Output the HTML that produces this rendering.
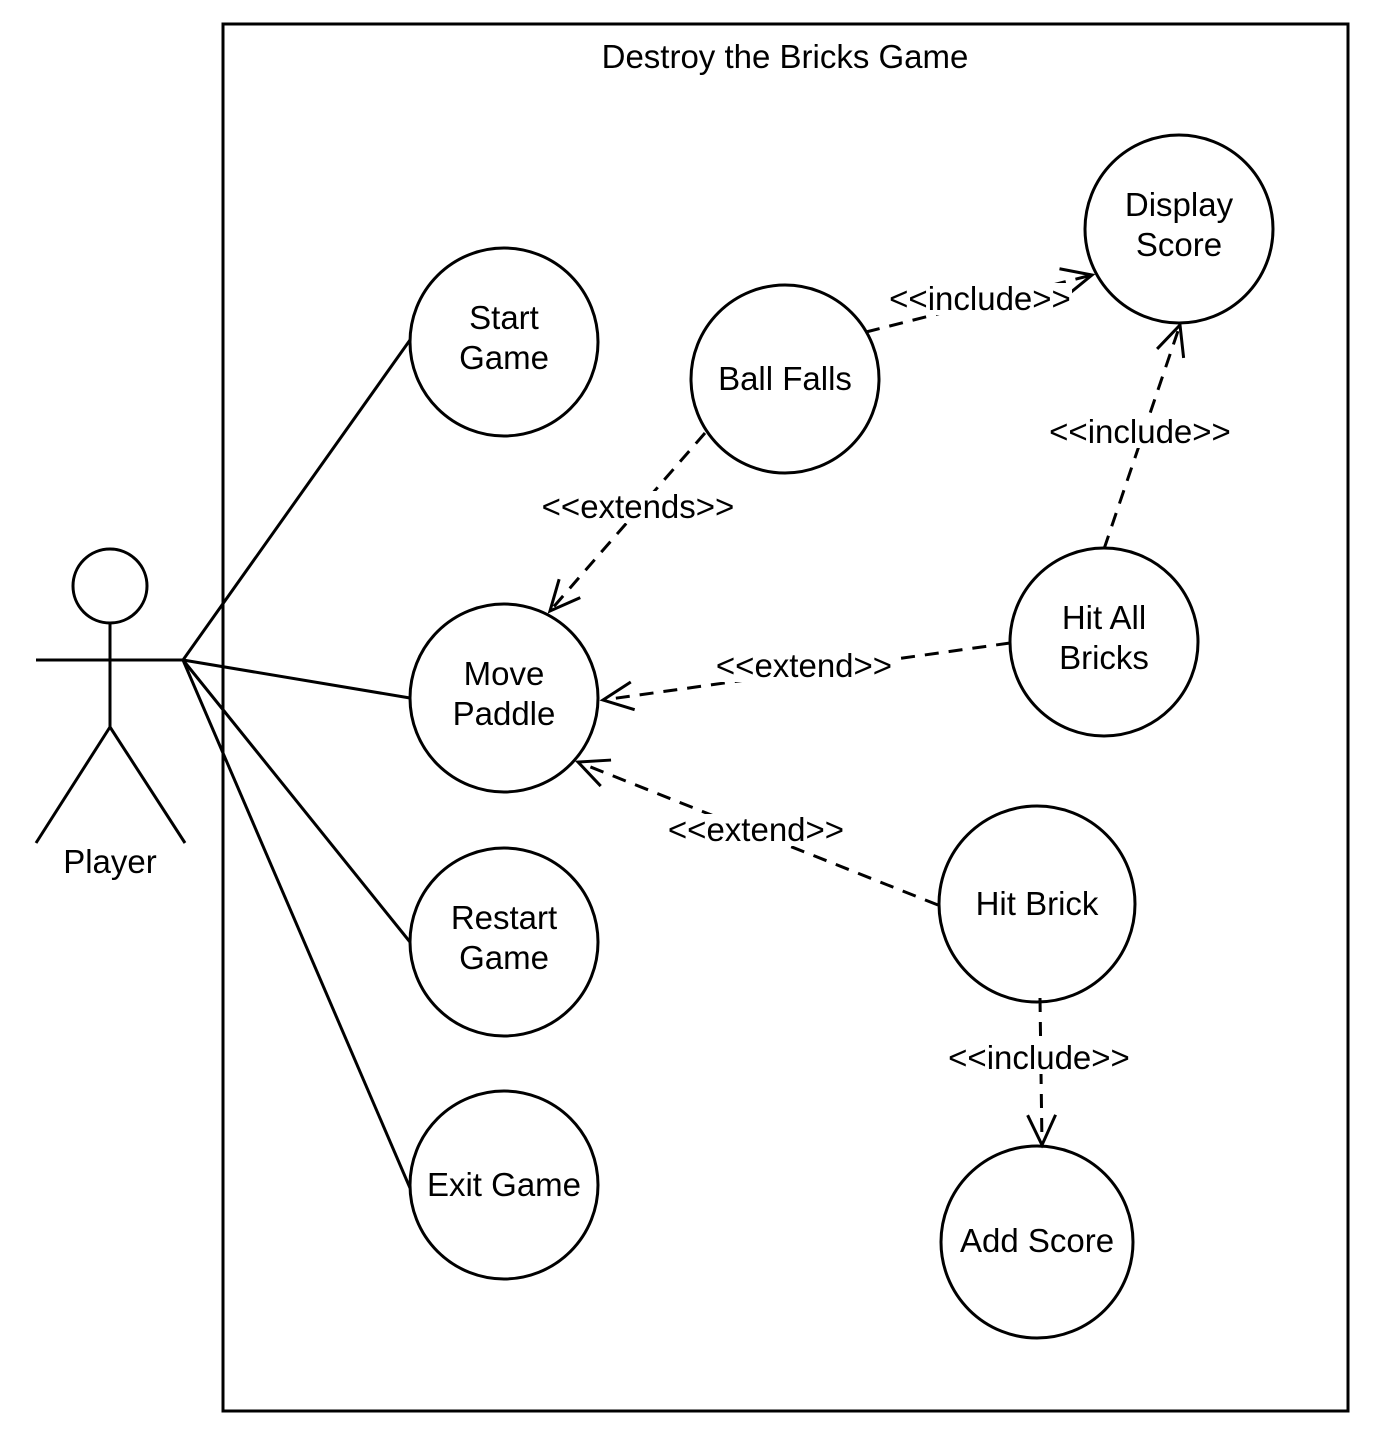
<!DOCTYPE html>
<html><head><style>body{margin:0;background:#fff}svg{display:block}text{font-family:"Liberation Sans",Arial,sans-serif;fill:#000}</style></head>
<body>
<svg width="1373" height="1438" viewBox="0 0 1373 1438" xmlns="http://www.w3.org/2000/svg">
<defs>
<marker id="a" markerUnits="userSpaceOnUse" markerWidth="40" markerHeight="40" refX="32" refY="16" orient="auto">
<path d="M2,2 L32,16 L2,30" fill="none" stroke="#000" stroke-width="3"/>
</marker>
</defs>
<rect x="223" y="24" width="1125" height="1387" fill="none" stroke="#000" stroke-width="3"/>
<text x="785" y="68" font-size="33" text-anchor="middle">Destroy the Bricks Game</text>
<g fill="none" stroke="#000" stroke-width="3">
<circle cx="110" cy="586" r="37"/>
<line x1="110" y1="623" x2="110" y2="727"/>
<line x1="36" y1="660" x2="183" y2="660"/>
<line x1="110" y1="727" x2="36" y2="843"/>
<line x1="110" y1="727" x2="185" y2="843"/>
<line x1="183" y1="660" x2="410" y2="340"/>
<line x1="183" y1="660" x2="410" y2="698"/>
<line x1="183" y1="660" x2="410" y2="942"/>
<line x1="183" y1="660" x2="410" y2="1188"/>
<circle cx="504" cy="342" r="94"/>
<circle cx="785" cy="379" r="94"/>
<circle cx="1179" cy="229" r="94"/>
<circle cx="504" cy="698" r="94"/>
<circle cx="1104" cy="642" r="94"/>
<circle cx="504" cy="942" r="94"/>
<circle cx="1037" cy="904" r="98"/>
<circle cx="504" cy="1185" r="94"/>
<circle cx="1037" cy="1242" r="96"/>
</g>
<g fill="none" stroke="#000" stroke-width="3" stroke-dasharray="14,10">
<line x1="866" y1="332" x2="1092" y2="275" marker-end="url(#a)"/>
<line x1="1104" y1="549" x2="1180" y2="325" marker-end="url(#a)"/>
<line x1="705" y1="433" x2="550" y2="611" marker-end="url(#a)"/>
<line x1="1010" y1="643" x2="603" y2="700" marker-end="url(#a)"/>
<line x1="938" y1="905" x2="578" y2="762" marker-end="url(#a)"/>
<line x1="1040" y1="998" x2="1042" y2="1145" marker-end="url(#a)"/>
</g>
<g font-size="33" text-anchor="middle">
<text x="110" y="873">Player</text>
<text x="504" y="329">Start</text><text x="504" y="369">Game</text>
<text x="785" y="390">Ball Falls</text>
<text x="1179" y="216">Display</text><text x="1179" y="256">Score</text>
<text x="504" y="685">Move</text><text x="504" y="725">Paddle</text>
<text x="1104" y="629">Hit All</text><text x="1104" y="669">Bricks</text>
<text x="504" y="929">Restart</text><text x="504" y="969">Game</text>
<text x="1037" y="915">Hit Brick</text>
<text x="504" y="1196">Exit Game</text>
<text x="1037" y="1252">Add Score</text>
</g>
<g font-size="33" text-anchor="middle">
<rect x="888" y="283" width="184" height="32" fill="#fff"/><text x="980" y="310">&lt;&lt;include&gt;&gt;</text>
<rect x="1048" y="416" width="184" height="32" fill="#fff"/><text x="1140" y="443">&lt;&lt;include&gt;&gt;</text>
<rect x="540" y="491" width="196" height="32" fill="#fff"/><text x="638" y="518">&lt;&lt;extends&gt;&gt;</text>
<rect x="714" y="650" width="180" height="32" fill="#fff"/><text x="804" y="677">&lt;&lt;extend&gt;&gt;</text>
<rect x="666" y="814" width="180" height="32" fill="#fff"/><text x="756" y="841">&lt;&lt;extend&gt;&gt;</text>
<rect x="946" y="1042" width="186" height="32" fill="#fff"/><text x="1039" y="1069">&lt;&lt;include&gt;&gt;</text>
</g>
</svg>
</body></html>
